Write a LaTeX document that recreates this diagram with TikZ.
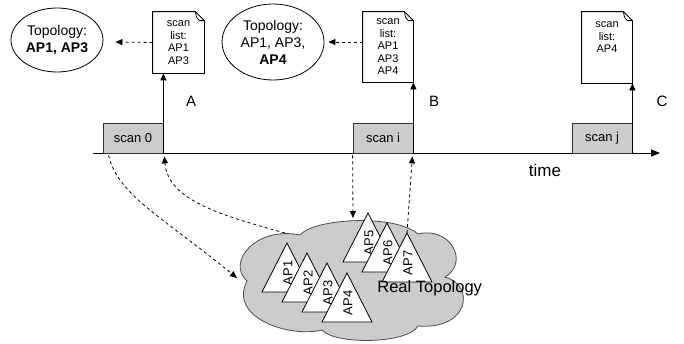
\documentclass[tikz,border=0pt]{standalone}
\usepackage{fontspec}
\setmainfont{Liberation Sans}
\usetikzlibrary{arrows.meta,shapes.geometric,calc}
\newcommand\docshape[1]{%
  \draw[docline] (#1.south west) -- (#1.north west) -- ([xshift=-9pt]#1.north east)
    -- ([yshift=-9pt]#1.north east) -- (#1.south east) -- cycle;
  \draw[docline] ([xshift=-9pt]#1.north east) .. controls ([xshift=-8pt,yshift=-6pt]#1.north east) .. ([xshift=-5pt,yshift=-9pt]#1.north east) -- ([yshift=-9pt]#1.north east);}
\begin{document}
\begin{tikzpicture}[x=1pt,y=-1pt,line width=0.8pt,
  >={Triangle[length=7pt,width=6pt]},
  topo/.style={ellipse,draw,align=center,inner sep=0pt,font=\fontsize{14}{17}\selectfont},
  docbox/.style={rectangle,inner sep=0pt,align=center,minimum width=#1,font=\fontsize{11}{12.5}\selectfont},
  docline/.style={draw=black,line width=0.8pt,line join=miter},
  scanbox/.style={rectangle,draw=black!80,fill=gray!40,minimum width=60pt,minimum height=30pt,inner sep=0pt,font=\fontsize{13}{15}\selectfont},
  lbl/.style={font=\fontsize{15}{17}\selectfont,inner sep=0pt},
  conn/.style={->,dashed,line width=0.8pt},
  tri/.style={draw=black,fill=white,line width=0.8pt,line join=miter},
  aplbl/.style={rotate=90,inner sep=0pt,font=\fontsize{13}{14}\selectfont}]
\useasboundingbox (0,0) rectangle (684,343);

% cloud
\draw[fill=gray!40,draw=black!70,line width=0.8pt]
  (247,281) .. controls (226,262) and (256,226) .. (300,235)
  .. controls (315,218) and (395,214) .. (418,234)
  .. controls (450,226) and (470,262) .. (445,277)
  .. controls (475,285) and (470,330) .. (418,326)
  .. controls (408,344) and (335,345) .. (322,330)
  .. controls (290,338) and (228,318) .. (247,281) -- cycle;

% access points
\foreach \n/\x/\y in {1/287/243,2/307/253,3/327/263,4/347/273,5/368/213,6/387/223,7/407/233}{
  \draw[tri] (\x,\y) -- ++(-25,49) -- ++(50,0) -- cycle;
  \coordinate (ap\n top) at (\x,\y);
  \node[aplbl] (ap\n) at (\x+1,\y+30) {AP\n};
}
\node[anchor=west,inner sep=0pt,font=\fontsize{16.5}{18}\selectfont] (real) at (377,288) {Real Topology};

% timeline
\coordinate (tstart) at (93,153);
\coordinate (tend) at (660,153);
\draw[->,>={Triangle[length=9pt,width=7pt]}] (tstart) -- (tend);
\node[font=\fontsize{17}{19}\selectfont,inner sep=0pt] (time) at (545,170) {time};

% scan boxes
\node[scanbox] (scan0) at (133,138) {scan 0};
\node[scanbox] (scani) at (383,138) {scan i};
\node[scanbox] (scanj) at (602,138) {scan j};

% documents
\node[docbox=51pt,minimum height=61pt] (docA) at (178.5,42.5) {scan\\list:\\AP1\\AP3};
\node[docbox=50pt,minimum height=70pt] (docB) at (388,47) {scan\\list:\\AP1\\AP3\\AP4};
\node[docbox=50pt,minimum height=71pt] (docC) at (607,47.5) {scan\\list:\\AP4\\[8pt]};
\docshape{docA}
\docshape{docB}
\docshape{docC}

% topology ellipses
\node[topo,minimum width=92pt,minimum height=64pt] (ellA) at (57,40) {Topology:\\\textbf{AP1, AP3}};
\node[topo,minimum width=102pt,minimum height=76pt] (ellB) at (273,42) {Topology:\\AP1, AP3,\\\textbf{AP4}};

% labels
\node[lbl] (labA) at (191,101) {A};
\node[lbl] (labB) at (434,101) {B};
\node[lbl] (labC) at (662,101) {C};

% scan result arrows
\draw[->] (scan0.south east) -- (scan0.south east |- docA.south);
\draw[->] (scani.south east) -- (scani.south east |- docB.south);
\draw[->] (scanj.south east) -- (scanj.south east |- docC.south);

% documents to topology
\draw[conn] (docA.west) -- ($(ellA.east)+(12,2)$);
\coordinate (bw) at ($(docB.west)+(0,-5)$);
\draw[conn] (bw) -- ($(bw -| ellB.east)+(4,0)$);

% probes to real topology
\draw[conn] ($(scan0.south west)+(6,2)$) .. controls (118,195) and (160,215) .. ($(real.west)+(-140,-10)$);
\draw[conn] (ap1top) ++(-2,-10) .. controls (220,215) and (168,200) .. ($(scan0.south east)+(1,3)$);
\coordinate (probe) at (353,218);
\draw[conn] ($(scani.south west)+(0,2)$) -- (probe);
\draw[conn] (ap7top) -- ($(scani.south east)+(-1,3)$);
\end{tikzpicture}
\end{document}
